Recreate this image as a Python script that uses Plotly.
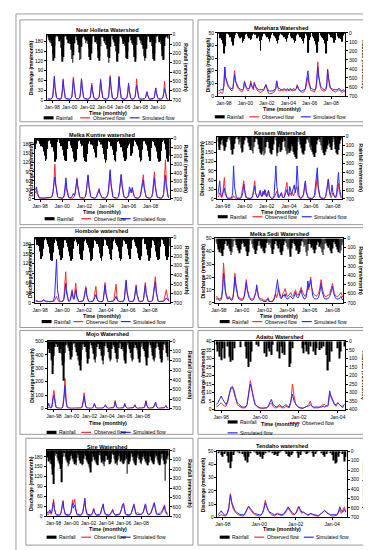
import plotly.graph_objects as go

W, H = 371, 550

# ---------------- DATA (monthly values) ----------------
TICKS_98_10 = ["Jan-98", "Jan-00", "Jan-02", "Jan-04", "Jan-06", "Jan-08", "Jan-10"]
TICKS_98_08 = ["Jan-98", "Jan-00", "Jan-02", "Jan-04", "Jan-06", "Jan-08"]
TICKS_98_04 = ["Jan-98", "Jan-00", "Jan-02", "Jan-04"]

# Near Holleta
HOL_OBS = [3,2,2,2,3,3,5,10,30, 65,36,13,6,4,3,2,2,2, 3,9,29,65,35,12,6,4,3, 2,2,2,2,3,5,10,32,70,
           38,14,6,4,3,2,3,5,10, 30,65,36,13,6,4,3,2,2, 2,2,3,5,9,24,52,28,10, 5,3,2,2,2,3,5,9,30,
           65,36,13,6,4,3,2,2,2, 3,5,11,35,75,40,15,6,4, 3,2,2,3,5,10,34,73,40, 14,6,4,3,2,2,2,3,5,
           8,22,48,27,10,5,3,2,2, 3,5,10,30,65,35,12,5,3, 2,2,2,2,2,3,4,6,13, 25,15,6,3,2,2,2,2,3,
           4,7,18,37,20,8,4,3,2, 2,2,3,5,9,26,57,30,11, 5,3,2]
HOL_SIM = [4,3,3,3,3,4,6,14,40, 73,42,18,8,5,4,3,3,3, 4,10,32,60,38,15,7,5,4, 3,3,3,3,4,6,12,35,65,
           42,16,7,5,4,3,4,6,12, 35,65,40,15,7,5,4,3,3, 3,3,4,6,10,22,45,30,12, 6,4,3,3,3,4,6,10,32,
           60,40,15,7,5,4,3,3,3, 4,6,12,36,70,45,17,7,5, 4,3,3,4,6,11,35,70,44, 16,7,5,4,3,3,3,4,6,
           10,25,52,30,12,6,4,3,3, 4,6,11,30,45,32,13,6,4, 3,3,3,3,3,4,5,7,14, 25,16,7,4,3,3,3,3,4,
           5,8,19,37,22,9,5,4,3, 3,3,4,6,10,22,35,24,10, 5,4,3]
HOL_RAIN = [10,30,60,80,50,90,120,210,280, 250,120,30,5,3,15,40,70,60, 140,230,290,240,110,25,5,10,20,
            50,90,70,60,100,160,260,300,220, 90,20,8,15,60,80,110,190,270, 260,130,30,5,3,20,50,90,70,
            60,100,150,240,270,200,100,20,5, 10,40,80,60,100,170,250,280,230, 120,25,5,10,30,70,90,50,110,
            150,240,300,250,130,30,5,10,50, 60,80,120,180,280,290,200,90,20, 5,15,40,70,100,80,120,170,250,
            260,180,80,15,5,20,60,90,110, 160,240,290,260,110,25,5,10,30, 60,90,70,110,150,230,280,250,150,
            60,15,5,20,50,80,60,120,200, 260,280,200,90,20,5,10,40,80, 60,100,160,230,270,260,120,30,5,
            10,20,40]

# Metehara
MET_OBS = [2,2,3,3,2,3,8,23,14, 10,9,7,6,5,4,4,5,12, 20,12,9,7,6,5,4,4,3, 4,6,12,8,6,5,4,5,7,
           12,7,6,5,11,8,6,5,4, 4,3,3,3,4,4,5,7,9, 6,4,2,2,2,2,2,3,3, 4,6,12,7,5,4,4,5,4,
           4,5,5,4,4,5,4,4,5, 5,4,4,5,4,5,6,9,6, 5,4,3,3,3,3,4,5,8, 11,15,10,7,5,4,4,4,3,
           4,6,12,27,17,10,7,5,5, 4,4,4,5,8,21,13,8,6, 5,4,4,4,3,3,4,4,5, 5,4,3,3,3,4,3]
MET_SIM = [4,4,5,5,5,5,8,23,15, 11,10,8,7,6,6,6,6,11, 17,12,10,8,7,6,6,5,5, 5,6,11,9,7,6,6,6,7,
           10,8,7,6,10,8,7,6,5, 5,5,5,5,5,5,6,7,9, 7,5,4,4,4,4,4,4,5, 5,6,12,8,6,6,5,5,5,
           5,6,5,5,5,6,5,5,6, 5,5,5,6,5,5,6,8,6, 5,5,4,4,4,5,5,6,10, 14,20,12,8,6,6,5,5,5,
           5,7,13,23,15,10,8,7,6, 6,5,5,6,9,21,14,9,7, 6,6,5,5,5,5,5,5,6, 6,5,4,4,5,5,4]
MET_RAIN = [10,30,60,40,80,120,230,150,60, 10,0,5,20,50,30,100,140,90, 60,20,0,0,10,40,60,30,50,
            110,90,70,20,10,0,40,60,50, 80,70,30,10,0,20,10,60,40, 30,90,200,80,40,10,0,10,30,
            50,20,70,100,60,20,0,0,30, 40,60,90,120,80,30,10,0,20, 30,50,40,70,100,60,20,0,0,
            40,60,30,80,110,90,30,10,0, 20,50,40,70,90,120,60,10,0, 30,220,80,50,20,0,10,40,60,
            90,130,220,100,40,0,0,30,50, 60,80,120,230,90,30,10,0,20, 50,30,60,110,80,30,0,0,40,
            60,50,70,100,30,10,0]

# Melka Kuntire
MKU_OBS = [20,30,15,6,3,2,2,2,2, 2,2,2,2,2,3,3,3,4, 8,20,55,115,50,15,6,4,3, 2,2,2,3,8,25,55,25,8,
           4,3,2,2,3,3,8,15,40, 70,35,12,5,3,2,2,2,3, 6,20,45,80,40,14,6,4,3, 2,2,3,5,12,25,35,20,8,
           4,3,2,2,3,5,10,20,50, 90,45,15,6,4,3,2,2,3, 6,20,45,82,40,14,6,4,3, 3,5,10,25,30,20,35,20,8,
           4,3,2,2,3,5,12,30,55, 80,40,14,6,4,3,2,2,3, 6,15,45,90,45,15,6,4,3, 2,2,3,5,15,60,130,55,15,
           6,3]
MKU_SIM = [30,40,20,8,5,4,3,3,3, 3,3,3,3,3,4,4,5,6, 10,25,50,72,45,18,8,5,4, 4,3,3,5,12,40,70,35,12,
           6,4,4,5,10,18,12,20,45, 65,40,15,7,5,4,3,3,4, 8,22,50,78,45,18,8,5,4, 3,3,4,6,15,22,30,18,8,
           5,4,3,3,4,6,12,25,60, 97,50,18,8,5,4,3,3,4, 8,25,50,80,45,16,7,5,4, 4,7,15,40,25,20,38,22,9,
           5,4,3,3,4,6,14,30,50, 62,35,14,7,5,4,3,3,4, 7,18,40,70,38,14,7,5,4, 3,3,4,6,18,50,78,40,14,
           6,4]
MKU_RAIN = [120,60,20,10,30,60,90,70,100, 150,200,260,240,120,30,10,20,60, 100,80,150,270,240,130,40,10,20,
            50,90,70,130,200,250,260,120,30, 10,30,80,110,90,150,230,270,250, 120,30,10,20,60,90,80,140,220,
            260,270,180,60,15,30,70,50,80, 120,160,200,220,90,20,10,40,70, 60,110,180,240,280,250,120,30,10,
            40,90,80,130,190,250,270,150,40, 10,30,60,100,90,150,220,260,240, 110,30,80,60,120,200,170,90,20,
            10,40,70,90,130,220,270,250,130, 30,10,30,60,80,140,210,260,240, 110,30,10,40,80,100,150,230,270,
            260,140,40,10,20,60,90,130,230, 270,200]

# Kessem
KES_OBS = [5,10,20,8,4,8,30,69,25, 8,4,2,1,1,1,2,3,10, 4,2,1,1,1,1,2,4,15, 35,58,20,6,3,2,1,1,1,
           2,4,15,40,58,18,6,3,8, 12,25,10,8,20,12,28,10,6, 15,25,8,3,2,1,2,4,10, 18,25,8,3,6,12,20,6,3,
           6,20,40,53,18,8,20,12,10, 20,10,15,25,30,40,12,4,2, 2,4,6,12,35,53,20,6,3, 2,1,1,1,2,4,8,20,45,
           74,30,10,4,2,1,1,1,2, 5,20,45,64,25,8,4,12,20, 10,4,3,8,25,50,20,6,3]
KES_SIM = [15,40,58,20,8,15,30,35,15, 6,3,2,2,2,2,4,20,106, 40,12,5,3,2,2,2,3,8, 20,48,25,10,5,3,2,2,2,
           3,5,12,30,42,18,8,4,10, 20,28,12,8,25,15,30,12,8, 18,28,10,4,2,2,3,10,45, 106,40,12,5,8,15,20,8,4,
           5,12,25,30,15,10,40,20,15, 25,40,45,20,40,106,40,12,5, 3,4,8,15,40,58,25,10,5, 3,2,2,2,3,6,15,40,70,
           100,40,14,6,3,2,2,2,3, 8,25,50,64,30,12,20,45,20, 10,5,6,20,50,85,35,12,5]
KES_RAIN = [60,120,150,90,40,20,100,160,120, 60,30,0,10,40,80,150,200,140, 80,20,0,0,30,90,60,130,180,
            170,90,40,10,0,20,70,110,150, 100,160,190,120,60,20,10,30,90, 140,180,200,170,160,210,190,120,60,
            30,60,130,180,200,150,90,30,10, 40,220,180,120,80,170,150,60,20, 50,120,160,200,190,130,180,160,90,
            110,170,200,230,250,150,60,20,40, 90,130,180,200,160,80,30,10,40, 70,120,150,100,170,200,230,180,90,
            40,10,30,60,100,150,130,180,210, 170,140,100,40,80,120,150,110,60, 30,90,140,180,200,150,80,40,20]

# Hombole
HOM_OBS = [5,4,3,3,3,3,3,4,6, 10,6,4,3,3,3,3,3,3, 3,3,4,8,15,20,10,5,3, 3,3,3,5,15,50,95,40,12,
           5,4,8,25,40,20,15,35,60, 25,8,4,3,3,3,3,5,15, 35,50,25,8,4,3,3,3,3, 5,15,35,50,20,6,4,3,3,
           3,3,8,30,62,30,10,4,3, 3,3,3,3,5,15,35,57,20, 6,4,3,3,3,3,4,10,35, 65,30,10,5,3,3,3,3,5,
           15,35,55,25,8,4,3,3,3, 4,10,30,62,30,10,4,3,3, 3,4,8,30,60,80,35,10,5, 3,3,3,3,3,5,15,30,40,
           20,8,4]
HOM_SIM = [8,6,5,4,4,4,4,5,7, 8,6,5,4,4,4,4,4,4, 4,5,8,25,80,133,40,12,6, 5,4,4,5,10,30,60,30,10,
           6,5,8,20,35,15,10,22,40, 18,8,5,4,4,4,4,6,15, 30,45,22,8,5,4,4,4,4, 5,10,18,25,12,6,5,4,4,
           4,4,8,25,55,28,10,5,4, 4,4,4,4,5,8,14,20,10, 6,5,4,4,4,4,5,12,40, 70,35,12,6,4,4,4,4,5,
           12,30,50,25,8,5,4,4,4, 5,10,28,55,28,10,5,4,4, 4,5,8,25,50,65,30,10,5, 4,4,4,4,4,5,8,12,15,
           10,6,5]
HOM_RAIN = [20,40,80,60,90,150,230,200,120, 30,10,5,30,70,50,100,170,240, 250,160,60,10,20,40,90,80,130,
            190,240,220,110,30,10,30,60,100, 80,150,200,250,230,120,40,10,20, 50,90,70,120,180,230,240,140,40,
            10,20,60,80,110,160,210,250,230, 110,30,10,40,70,60,100,170,220, 250,200,90,20,10,30,80,90,120,
            180,230,240,130,40,10,20,60,80, 100,150,220,250,230,100,30,10,40, 70,60,120,190,230,210,120,30,10,
            20,50,90,110,170,220,240,200,80, 20,10,30,70,60,130,190,250,220, 110,30,10,40,80,100,150,210,240,
            230,100,20,10,30,70,90,140,200, 240,210,90]

# Melka Sedi
MSE_OBS = [4,5,4,3,3,3,5,12,31, 18,10,6,4,3,5,4,3,3, 5,12,23,15,9,6,4,4,3, 3,3,4,6,12,18,11,7,5,
           4,3,3,3,4,6,8,12,8, 5,4,3,3,3,2,2,2,2, 3,4,2,1,1,1,2,3,5, 7,4,6,12,8,6,4,5,8,
           9,11,7,5,5,6,7,8,6, 5,6,8,10,7,6,6,8,10, 12,9,7,6,5,6,9,13,10, 14,20,12,8,7,6,6,5,6,
           7,9,13,18,12,8,6,5,5, 5,6,6,7,9,12,15,10,7, 6,5,5,5,6,7,8,6,4]
MSE_SIM = [3,3,3,2,2,2,4,10,23, 14,8,5,3,3,4,3,2,2, 4,10,20,13,8,5,3,3,2, 2,2,3,5,10,16,10,6,4,
           3,2,2,2,3,5,8,14,8, 4,3,2,2,2,1,1,1,1, 2,3,1,1,1,1,1,2,4, 8,14,18,10,6,4,3,5,6,
           5,7,4,3,3,4,5,5,4, 3,4,6,8,5,4,4,6,8, 10,6,4,3,3,4,8,17,12, 14,18,10,6,4,3,3,3,3,
           4,6,10,15,9,5,4,3,3, 3,3,4,5,7,10,13,8,5, 4,3,3,3,3,4,5,3,2]
MSE_RAIN = [40,60,90,120,150,100,160,190,120, 60,20,30,80,60,110,140,180,150, 90,30,10,40,70,100,130,160,120,
            60,20,50,90,80,140,190,150,70, 20,10,60,100,70,120,170,130,80, 30,20,80,110,90,140,160,100,50,
            20,40,70,50,100,130,170,120,60, 20,30,80,110,60,150,180,140,70, 30,10,50,90,120,100,160,200,110,
            50,20,60,80,130,110,170,150,80, 30,10,40,90,70,150,190,130,60, 20,60,100,80,120,160,120,70,30,
            40,90,60,110,150,180,120,60,20, 50,80,100,70,130,160,110,40,20, 60,90,120,150,100,160,130,70,40]

# Mojo
MOJ_OBS = [5,8,10,6,4,10,40,100,135, 80,30,10,5,3,2,2,2,2, 3,5,15,50,120,225,110,35,12, 6,4,3,2,2,2,2,2,2,
           2,2,2,2,2,2,3,3,4, 4,10,30,70,118,60,20,8,4, 3,2,2,2,2,2,3,8,20, 40,18,6,3,2,2,2,2,2,
           2,2,3,5,12,25,30,14,5, 3,2,2,2,2,2,2,3,8, 25,60,30,10,4,2,2,2,2, 2,2,3,6,18,40,20,6,3,
           2,2,2,2,2,2,2,3,8, 20,30,12,4,2,2,2,2,2, 2,2,2,3,5,15,35,60,25, 8,3,2,2,2,2,2,3,8,
           25,40,50,20,6,3,2,2,2, 2,2,2,2,3,8,18,25,10, 4,2]
MOJ_SIM = [15,40,20,8,5,8,30,80,100, 60,25,10,6,4,3,3,3,3, 4,5,12,40,100,170,80,25,10, 6,4,3,3,3,3,3,3,3,
           3,3,3,3,3,3,3,4,5, 5,10,25,60,95,50,18,8,4, 3,3,3,3,3,3,4,8,18, 35,15,6,4,3,3,3,3,3,
           3,3,4,6,12,22,25,12,5, 4,3,3,3,3,3,3,4,8, 22,50,25,10,5,3,3,3,3, 3,3,4,6,16,35,18,6,4,
           3,3,3,3,3,3,3,4,8, 18,25,10,5,3,3,3,3,3, 3,3,3,4,6,14,30,55,22, 8,4,3,3,3,3,3,4,8,
           22,35,45,18,6,4,3,3,3, 3,3,3,3,4,8,15,20,8, 4,3]
MOJ_RAIN = [40,80,120,90,130,200,340,250,150, 60,20,10,30,60,40,90,120,80, 130,200,250,410,220,120,40,10,30,
            70,50,100,140,190,160,90,30,10, 20,60,80,110,150,200,180,250,303, 200,90,30,10,30,60,50,110,170,
            230,180,80,20,10,40,70,90,130, 190,220,160,60,20,10,30,80,60, 100,150,200,240,150,50,10,20,50,
            70,110,170,210,190,80,20,10,40, 60,90,120,180,220,180,70,20,10, 30,80,60,100,160,200,230,130,40,
            10,20,60,80,120,170,210,190,70, 20,10,40,70,90,130,180,220,160, 60,20,10,50,80,100,160,200,250,
            170,60,20,10,40,70,110,150,190, 210,170,70,20,10,30,60,90,140, 180,220,200,90,30,10,40,70,120,
            160,200]

# Adaitu
ADA_OBS = [2,2,3,4,3,2,2,4,9,12, 13,10,6,3,2,1.5,1,1,1,3, 10,17,12,6,3,2,1,1,0.5,0.5, 1,1,1.5,3,4,2,1,1,1.5,2,
           1.5,1,1,2,1.5,1,4,15,8,3, 2,1,1,0.5,1,1.5,2,3,5,2, 1,1,1,1,1.5,2,3,3,2,2, 9,8,5,3,2,4,3,2,1,3]
ADA_SIM = [3,4,6,8,6,4,3,5,10,13, 13.5,11,7,4,3,2,1.5,1.5,1.5,3, 9,15,11,6,3,2,1.5,1,1,1, 1,1,2,4,6,3,2,1.5,2,3,
           2,1.5,2,3,2,1.5,5,9,5,3, 2,1.5,1,1,1,1.5,2,2,3,2, 1.5,1.5,1.5,1.5,1.5,1.5,2,1.5,2,3, 11,7,5,3,3,4,3,2,2,3]
ADA_RAIN = [20,60,90,110,40,100,0,30,90,120, 110,40,0,0,0,35,0,0,30,100, 150,120,60,0,0,20,30,0,0,0,
            70,90,40,60,80,20,0,0,60,100, 30,70,80,0,0,150,130,40,0,0, 0,0,0,40,70,20,60,75,30,0,
            60,80,40,0,50,40,30,0,80,171, 120,60,0,0,0,40,100,60,0,30]

# Sire
SIR_OBS = [8,6,5,10,15,8,6,15,35, 52,25,10,6,4,3,3,3,3, 4,8,20,40,48,25,10,5,4, 3,3,3,3,4,6,12,30,50,
           35,45,52,30,10,5,4,3,3, 3,3,4,6,12,25,40,45,20, 8,5,4,3,3,3,3,4,8, 15,25,14,6,4,3,3,3,3,
           4,6,12,25,32,35,18,8,5, 4,3,3,3,3,4,6,12,18, 22,12,6,4,3,3,3,3,4, 5,8,12,20,30,38,40,22,10,
           6,4,3,3,3,3,4,6,12, 20,30,38,28,12,8,10,12,10, 8,6,6,7,8,10,14,22,30, 35,22,12,8,7,7,8,10,15,
           22,30,38,42,30,15,10,8,8, 8,10,12,14,15,18,25,30,35, 20,12,10,10,12]
SIR_SIM = [15,10,12,18,20,12,10,20,40, 45,25,12,8,6,5,5,5,5, 6,10,22,38,45,25,12,7,6, 5,5,5,5,6,8,14,28,40,
           25,30,35,22,10,7,6,5,5, 5,5,6,8,15,30,50,55,25, 10,7,6,5,5,5,5,6,9, 15,22,12,7,6,5,5,5,5,
           6,8,15,28,36,38,20,10,7, 6,5,5,5,5,6,8,12,16, 18,10,7,6,5,5,5,5,6, 7,10,15,22,32,38,36,18,9,
           6,5,5,5,5,5,6,8,14, 22,30,35,24,10,6,5,5,5, 5,5,5,6,7,9,14,24,34, 38,20,9,6,5,5,6,8,14,
           22,30,36,40,26,10,6,5,5, 5,5,6,8,10,14,20,28,32, 15,8,6,5,5]
SIR_RAIN = [40,80,120,90,140,100,150,200,260, 357,180,60,20,40,80,120,100,140, 160,200,340,150,70,20,30,70,110,
            90,130,170,150,110,60,20,40,90, 120,100,150,130,160,80,30,50,80, 110,140,120,160,150,90,40,20,60,
            100,130,110,150,180,200,235,120,40, 30,70,100,120,90,140,160,110,50, 20,60,90,130,110,150,170,120,60,
            30,60,100,80,120,150,130,90,40, 20,50,90,110,140,120,160,100,60, 30,80,120,100,130,150,140,110,50,
            40,90,250,130,150,120,90,40,30, 70,110,140,120,160,130,80,40,60, 100,90,130,150,110,70,30,50,90,
            120,140,100,160,130,60,30,70,110, 90,130,150,120,80,40,60,100,140, 120,160,140,90,40,30,80,110,150,
            322,140,90,60,100]

# Tendaho
TEN_OBS = [1,1.5,2,1.5,1,1,3,8,18,10, 6,4,3,2,1.5,1,1,1.5,3,6, 8,6,4,3,2,1.5,1,1,1.5,3, 7,13,8,5,3,2,1.5,1,2,2.5,
           2,1.5,1.5,2,3,5,7,5,3,2, 2,3,6,8.5,5,3,4,3,2,1.5, 2,3,2,1.5,1,1,1,2,3,4, 5.5,4,3,2,1.5,1,1,1,1.5,3,
           6,3,5,8,4]
TEN_SIM = [2,4,5,3,2,2,3,7,17,11, 7,5,4,3,2.5,2,2,2,4,7, 8.5,7,5,4,3,2.5,2,2,2,3, 6,11,8,5,4,3,2.5,2,2.5,3,
           2.5,2,2,2.5,4,6,8,6,4,3, 2.5,3,5,8,6,4,4,3,2.5,2, 2.5,3,2.5,2,2,1.5,1.5,2,3,4, 5,4,3,2.5,2,2,1.5,1.5,2,4,
           8,5,4,6,4]
TEN_RAIN = [20,10,40,60,30,10,50,120,180,110, 40,10,0,10,20,0,30,60,100,121, 60,20,0,0,10,20,40,30,60,80,
            40,20,0,10,10,0,20,40,30,50, 20,10,0,0,10,30,50,60,40,20, 0,0,20,70,40,10,0,10,30,20,
            10,0,20,60,30,10,0,0,20,40, 60,30,10,0,20,40,100,130,120,60, 20,0,30,110,60]

TITLES = ["Near Holleta Watershed", "Metehara Watershed", "Melka Kuntire watershed", "Kessem Watershed",
          "Hombole watershed", "Melka Sedi Watershed", "Mojo Watershed", "Adaitu Watershed",
          "Sire Watershed", "Tendaho watershed"]
SERIES = [(HOL_RAIN, HOL_OBS, HOL_SIM), (MET_RAIN, MET_OBS, MET_SIM), (MKU_RAIN, MKU_OBS, MKU_SIM),
          (KES_RAIN, KES_OBS, KES_SIM), (HOM_RAIN, HOM_OBS, HOM_SIM), (MSE_RAIN, MSE_OBS, MSE_SIM),
          (MOJ_RAIN, MOJ_OBS, MOJ_SIM), (ADA_RAIN, ADA_OBS, ADA_SIM), (SIR_RAIN, SIR_OBS, SIR_SIM),
          (TEN_RAIN, TEN_OBS, TEN_SIM)]
TICKTEXT = [TICKS_98_10, TICKS_98_08, TICKS_98_08, TICKS_98_08, TICKS_98_08, TICKS_98_08,
            TICKS_98_08, TICKS_98_04, TICKS_98_08, TICKS_98_04]
TICK_START = [6, 6, 5, 5, 5, 3, 8, 3, 9, 3]       # month index of "Jan-98"
Q_MAX = [200, 50, 200, 200, 200, 50, 500, 40, 200, 50]
Q_STEP = [30, 10, 30, 30, 30, 10, 100, 5, 30, 10]
Q_TOP = [180, 50, 180, 180, 180, 50, 500, 40, 180, 50]
R_MAX = [700, 700, 700, 700, 700, 700, 700, 400, 700, 700]
R_STEP = [100, 100, 100, 100, 100, 100, 100, 50, 100, 100]

# ---------------- LAYOUT (pixels) ----------------
PLOT = [(35.7, 158.3, 24, 90), (208.3, 336.7, 22, 86), (23.3, 159.3, 129, 190), (207.7, 333.3, 127, 190),
        (23.3, 159.3, 229, 295), (205.7, 335, 230, 295), (36, 158.3, 334, 402), (205.7, 336.7, 334, 403),
        (35, 158.3, 444, 511), (207.7, 338.3, 445, 512)]
TITLE_Y = [19, 17, 125, 123, 222, 225, 327, 330, 441, 440]
XT_Y = [103, 99, 203, 203, 308, 308, 417, 418, 524, 524]
YL_X = [20, 199, 19, 192, 18, 193, 20, 194, 19, 193]
YR_X = [176, 355, 176, 353, 177, 353, 180, 355, 180, 357]
LEG = [(108, 32, 69, 119), (107, 205, 240, 292), (210, 33, 70, 110), (208, 208, 243, 293),
       (314, 30, 62, 110), (314, 210, 243, 293), (426, 35, 70, 110), None,
       (532, 35, 70, 110), (532, 210, 245, 295)]
BOXES = [(8, 9, 183, 112), (188, 9, 361, 112), (8, 116, 183, 216), (188, 116, 361, 216),
         (8, 219, 183, 320), (188, 219, 361, 320), (8, 323, 183, 428), (188, 323, 361, 428),
         (14, 432, 183, 540), (188, 432, 361, 540)]

FONT = "Liberation Sans, Arial, sans-serif"
RED = "#ff2a2a"
BLUE = "#2a2aff"


def fx(x):
    return x / W


def fy(y):
    return 1 - y / H


fig = go.Figure()
annotations = []
shapes = []
layout = {}

shapes.append(dict(type="rect", xref="paper", yref="paper", x0=fx(4), x1=fx(367), y0=fy(546), y1=fy(3),
                   line=dict(color="#9a9a9a", width=1)))
for (bx0, by0, bx1, by1) in BOXES:
    shapes.append(dict(type="rect", xref="paper", yref="paper", x0=fx(bx0), x1=fx(bx1), y0=fy(by1), y1=fy(by0),
                       line=dict(color="#9a9a9a", width=1)))


def leg_item(kind, lx, ly, label):
    if kind == "bar":
        shapes.append(dict(type="rect", xref="paper", yref="paper", x0=fx(lx), x1=fx(lx + 10),
                           y0=fy(ly + 1.6), y1=fy(ly - 1.6), fillcolor="#000", line=dict(width=0)))
    else:
        shapes.append(dict(type="line", xref="paper", yref="paper", x0=fx(lx), x1=fx(lx + 10),
                           y0=fy(ly), y1=fy(ly), line=dict(color=kind, width=1.2)))
    annotations.append(dict(text=label, x=fx(lx + 10.5), y=fy(ly), xref="paper", yref="paper",
                            showarrow=False, xanchor="left", yanchor="middle",
                            font=dict(size=5, family=FONT, color="#000")))


for k in range(10):
    rain, obs, sim = SERIES[k]
    n = max(len(rain), len(obs), len(sim))
    xn = "x" if k == 0 else f"x{k+1}"
    yq = "y" if k == 0 else f"y{2*k+1}"
    yr = f"y{2*k+2}"
    xkey = "xaxis" if k == 0 else f"xaxis{k+1}"
    yqkey = "yaxis" if k == 0 else f"yaxis{2*k+1}"
    yrkey = f"yaxis{2*k+2}"
    x0, x1, t, b = PLOT[k]

    fig.add_trace(go.Bar(x=list(range(len(rain))), y=rain, xaxis=xn, yaxis=yr, width=0.75,
                         marker=dict(color="#000000", line=dict(width=0)), name="Rainfall"))
    fig.add_trace(go.Scatter(x=list(range(len(obs))), y=obs, xaxis=xn, yaxis=yq, mode="lines",
                             line=dict(color=RED, width=1), name="Observed flow"))
    fig.add_trace(go.Scatter(x=list(range(len(sim))), y=sim, xaxis=xn, yaxis=yq, mode="lines",
                             line=dict(color=BLUE, width=1), name="Simulated flow"))

    labels = TICKTEXT[k]
    tv = [TICK_START[k] + 24 * i for i in range(len(labels))]
    axis_common = dict(showgrid=False, zeroline=False, showline=True, linecolor="#000", linewidth=1,
                       ticks="outside", ticklen=2, tickwidth=1, tickcolor="#000",
                       tickfont=dict(size=5, family=FONT, color="#000"))
    layout[xkey] = dict(domain=[fx(x0), fx(x1)], anchor=yq, range=[-0.5, n - 0.5],
                        tickmode="array", tickvals=tv, ticktext=labels, mirror=True, **axis_common)
    qv = list(range(0, Q_TOP[k] + 1, Q_STEP[k]))
    layout[yqkey] = dict(domain=[fy(b), fy(t)], anchor=xn, range=[0, Q_MAX[k]], side="left",
                         tickmode="array", tickvals=qv, ticktext=[str(v) for v in qv], **axis_common)
    rv = list(range(0, R_MAX[k] + 1, R_STEP[k]))
    layout[yrkey] = dict(overlaying=yq, anchor=xn, side="right", range=[R_MAX[k], 0],
                         tickmode="array", tickvals=rv, ticktext=[str(v) for v in rv], **axis_common)

    cx = (x0 + x1) / 2
    annotations.append(dict(text=f"<b>{TITLES[k]}</b>", x=fx(cx), y=fy(TITLE_Y[k]), xref="paper", yref="paper",
                            showarrow=False, xanchor="center", yanchor="middle",
                            font=dict(size=5.6, family=FONT, color="#000")))
    annotations.append(dict(text="<b>Time (monthly)</b>", x=fx(cx), y=fy(XT_Y[k]), xref="paper", yref="paper",
                            showarrow=False, xanchor="center", yanchor="middle",
                            font=dict(size=5.3, family=FONT, color="#000")))
    cy = (t + b) / 2
    annotations.append(dict(text="<b>Discharge (mm/month)</b>", x=fx(YL_X[k]), y=fy(cy), xref="paper",
                            yref="paper", showarrow=False, textangle=-90, xanchor="center", yanchor="middle",
                            font=dict(size=5, family=FONT, color="#000")))
    annotations.append(dict(text="<b>Rainfall (mm/month)</b>", x=fx(YR_X[k]), y=fy(cy), xref="paper",
                            yref="paper", showarrow=False, textangle=90, xanchor="center", yanchor="middle",
                            font=dict(size=5, family=FONT, color="#000")))

    if LEG[k] is not None:
        ly, rx, ox, sx = LEG[k]
        leg_item("bar", rx, ly, "Rainfall")
        leg_item(RED, ox, ly, "Observed flow")
        leg_item(BLUE, sx, ly, "Simulated flow")
    else:
        leg_item("bar", 218, 415.5, "Rainfall")
        leg_item(RED, 281, 416.5, "Observed flow")
        leg_item(BLUE, 218, 426.5, "Simulated flow")

fig.update_layout(width=W, height=H, margin=dict(l=0, r=0, t=0, b=0), paper_bgcolor="#fff",
                  plot_bgcolor="#fff", showlegend=False, barmode="overlay",
                  annotations=annotations, shapes=shapes, font=dict(family=FONT, size=5), **layout)
fig.write_html("out.html")
